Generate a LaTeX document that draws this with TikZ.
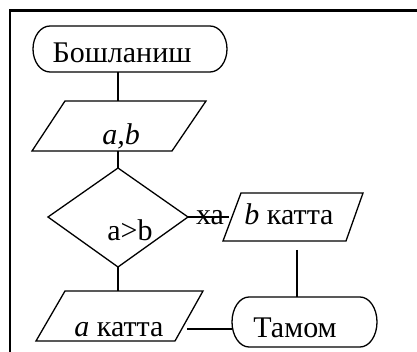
\documentclass[tikz,border=0pt]{standalone}
\usepackage{fontspec}
\setmainfont{Liberation Serif}
\begin{document}
\begin{tikzpicture}[x=1pt,y=-1pt,
  shp/.style={line width=1.3pt, line join=miter},
  frm/.style={line width=2.6pt},
  conn/.style={line width=1.3pt},
  lbl/.style={font=\fontsize{30}{32}\selectfont, inner sep=0pt, anchor=base}]
\useasboundingbox (0,0) rectangle (417,352);
% frame (cropped table cell)
\draw[frm] (10,352) -- (10,10.5) -- (417,10.5);
% start terminal
\draw[shp] (50,26) -- (210,26) arc[start angle=-90,end angle=90,x radius=17,y radius=23] -- (50,72) arc[start angle=90,end angle=270,x radius=17,y radius=23] -- cycle;
\coordinate (startB) at (118,72);
\node[lbl] (start) at (122,63) {Бошланиш};
% input a,b
\draw[shp] (65,101) -- (206,101) -- (172,151) -- (32,151) -- cycle;
\coordinate (inT) at (118,101);
\coordinate (inB) at (118,151);
\node[lbl] (in) at (121,145) {\itshape a,b};
% decision
\draw[shp] (118,168) -- (188,217) -- (118,267) -- (48,217) -- cycle;
\coordinate (decT) at (118,168);
\coordinate (decR) at (188,217);
\coordinate (decB) at (118,267);
\node[lbl] (dec) at (130,241) {a>b};
% output b
\draw[shp] (241,193) -- (363,193) -- (346,241) -- (223,241) -- cycle;
\coordinate (bL) at (229,217);
\coordinate (bB) at (297,250);
\node[lbl] (bout) at (289,225) {\textit{b} катта};
\node[lbl] (no) at (210,225) {ха};
% output a
\draw[shp] (65,291) -- (203,291) -- (175,341) -- (36,341) -- cycle;
\coordinate (aT) at (118,291);
\coordinate (aR) at (187,329);
\node[lbl] (aout) at (119,336) {\textit{a} катта};
% end terminal
\draw[shp] (249,297) -- (360,297) arc[start angle=-90,end angle=90,x radius=17,y radius=25] -- (249,347) arc[start angle=90,end angle=270,x radius=17,y radius=25] -- cycle;
\coordinate (endT) at (297,297);
\coordinate (endL) at (232,329);
\node[lbl] (end) at (295,337) {Тамом};
% connectors
\draw[conn] (startB) -- (inT);
\draw[conn] (inB) -- (decT);
\draw[conn] (decB) -- (aT);
\draw[conn] (decR) -- (bL);
\draw[conn] (bB) -- (endT);
\draw[conn] (aR) -- (endL);
\end{tikzpicture}
\end{document}
